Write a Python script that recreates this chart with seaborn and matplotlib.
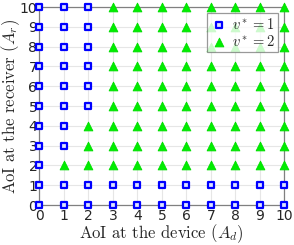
import numpy as np
import pandas as pd
import matplotlib
matplotlib.use("Agg")
import matplotlib.pyplot as plt
import seaborn as sns

# Optimale Aktion v* je Zustand (Zeile = A_r von 0 bis 10, Spalte = A_d von 0 bis 10)
a_d_values = list(range(11))
a_r_values = list(range(11))
policy = [
    [1, 1, 1, 1, 1, 1, 1, 1, 1, 1, 1],  # A_r = 0
    [1, 1, 1, 1, 1, 1, 1, 1, 1, 1, 1],  # A_r = 1
    [1, 2, 2, 2, 2, 2, 2, 2, 2, 2, 2],  # A_r = 2
    [1, 1, 2, 2, 2, 2, 2, 2, 2, 2, 2],  # A_r = 3
    [1, 1, 2, 2, 2, 2, 2, 2, 2, 2, 2],  # A_r = 4
    [1, 1, 1, 2, 2, 2, 2, 2, 2, 2, 2],  # A_r = 5
    [1, 1, 1, 2, 2, 2, 2, 2, 2, 2, 2],  # A_r = 6
    [1, 1, 1, 2, 2, 2, 2, 2, 2, 2, 2],  # A_r = 7
    [1, 1, 1, 2, 2, 2, 2, 2, 2, 2, 2],  # A_r = 8
    [1, 1, 1, 2, 2, 2, 2, 2, 2, 2, 2],  # A_r = 9
    [1, 1, 1, 2, 2, 2, 2, 2, 2, 2, 2],  # A_r = 10
]

rows = []
for i, a_r in enumerate(a_r_values):
    for j, a_d in enumerate(a_d_values):
        rows.append({"Ad": a_d, "Ar": a_r, "v": policy[i][j]})
df = pd.DataFrame(rows)

sns.set_style("white")
plt.rcParams["mathtext.fontset"] = "cm"
plt.rcParams["font.family"] = ["DejaVu Sans"]

fig = plt.figure(figsize=(2.94, 2.45), dpi=100)
ax = fig.add_axes([0.134, 0.163, 0.833, 0.808])

ax.grid(True, color="#e6e6e6", linewidth=0.8)
ax.set_axisbelow(True)

sub1 = df[df["v"] == 1]
sub2 = df[df["v"] == 2]
sns.scatterplot(data=sub1, x="Ad", y="Ar", marker="s", s=14, color="#dde4ff",
                edgecolor="#0000ff", linewidth=1.6, ax=ax, clip_on=False, zorder=3,
                label=r"$v^* = 1$")
sns.scatterplot(data=sub2, x="Ad", y="Ar", marker="^", s=40, color="#00ee00",
                edgecolor="#00dd00", linewidth=0.6, ax=ax, clip_on=False, zorder=3,
                label=r"$v^* = 2$")

ax.set_xlim(0, 10)
ax.set_ylim(0, 10)
ax.set_xticks(a_d_values)
ax.set_yticks(a_r_values)
ax.tick_params(axis="both", labelsize=10, length=0, colors="#262626")
ax.tick_params(axis="x", pad=2.5)
ax.tick_params(axis="y", pad=1.5)
for s in ax.spines.values():
    s.set_color("#808080")
    s.set_linewidth(0.9)

ax.set_xlabel(r"AoI at the device ($A_d$)", fontsize=12, family="cmr10", labelpad=0)
ax.set_ylabel(r"AoI at the receiver ($A_r$)", fontsize=12, family="cmr10")
ax.yaxis.set_label_coords(-0.07, 0.5)

leg = ax.legend(loc="upper right", fontsize=10.5, frameon=True, fancybox=False,
                handletextpad=0.3, borderpad=0.25, labelspacing=0.15,
                handlelength=1.2, borderaxespad=0.4)
leg.get_frame().set_edgecolor("#808080")
leg.get_frame().set_linewidth(0.9)

fig.savefig("out.png", dpi=100)
